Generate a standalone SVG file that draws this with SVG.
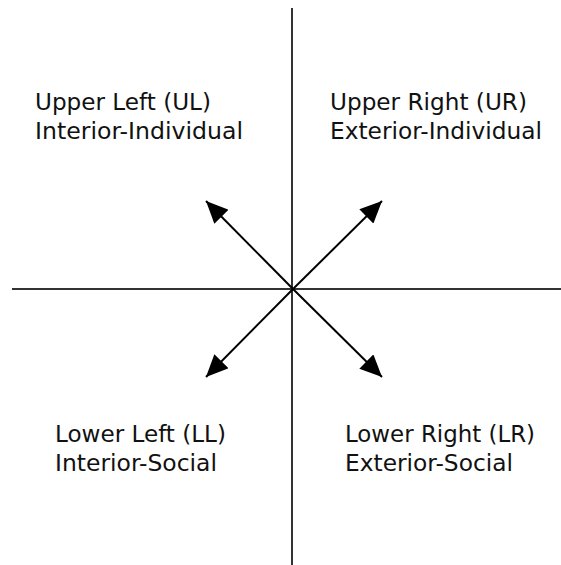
<svg xmlns="http://www.w3.org/2000/svg" width="561" height="565" viewBox="0 0 561 565">
<style>
.axis{stroke:#333;stroke-width:2;fill:none}
.arr{stroke:#000;stroke-width:2;fill:none;marker-end:url(#ah)}
.lbl{font-family:"DejaVu Sans",sans-serif;font-size:23.5px;fill:#111}
</style>
<defs>
<marker id="ah" markerUnits="userSpaceOnUse" markerWidth="24" markerHeight="20" refX="22" refY="10" orient="auto">
<path d="M0,0 L22,10 L0,20 Z" fill="#000"/>
</marker>
</defs>
<rect width="561" height="565" fill="#fff"/>
<g id="connectors">
<line class="axis" x1="292" y1="8" x2="292" y2="565"/>
<line class="axis" x1="12" y1="289" x2="561" y2="289"/>
<line class="arr" x1="293" y1="289" x2="206" y2="201"/>
<line class="arr" x1="293" y1="289" x2="382" y2="201"/>
<line class="arr" x1="293" y1="289" x2="206" y2="377"/>
<line class="arr" x1="293" y1="289" x2="382" y2="377"/>
</g>
<g id="UL">
<text class="lbl" x="35" y="110" textLength="176" lengthAdjust="spacingAndGlyphs">Upper Left (UL)</text>
<text class="lbl" x="35" y="139" textLength="208" lengthAdjust="spacingAndGlyphs">Interior-Individual</text>
</g>
<g id="UR">
<text class="lbl" x="330" y="110" textLength="197" lengthAdjust="spacingAndGlyphs">Upper Right (UR)</text>
<text class="lbl" x="330" y="139" textLength="212" lengthAdjust="spacingAndGlyphs">Exterior-Individual</text>
</g>
<g id="LL">
<text class="lbl" x="55" y="442" textLength="171" lengthAdjust="spacingAndGlyphs">Lower Left (LL)</text>
<text class="lbl" x="55" y="471" textLength="162" lengthAdjust="spacingAndGlyphs">Interior-Social</text>
</g>
<g id="LR">
<text class="lbl" x="345" y="442" textLength="190" lengthAdjust="spacingAndGlyphs">Lower Right (LR)</text>
<text class="lbl" x="345" y="471" textLength="168" lengthAdjust="spacingAndGlyphs">Exterior-Social</text>
</g>
</svg>
